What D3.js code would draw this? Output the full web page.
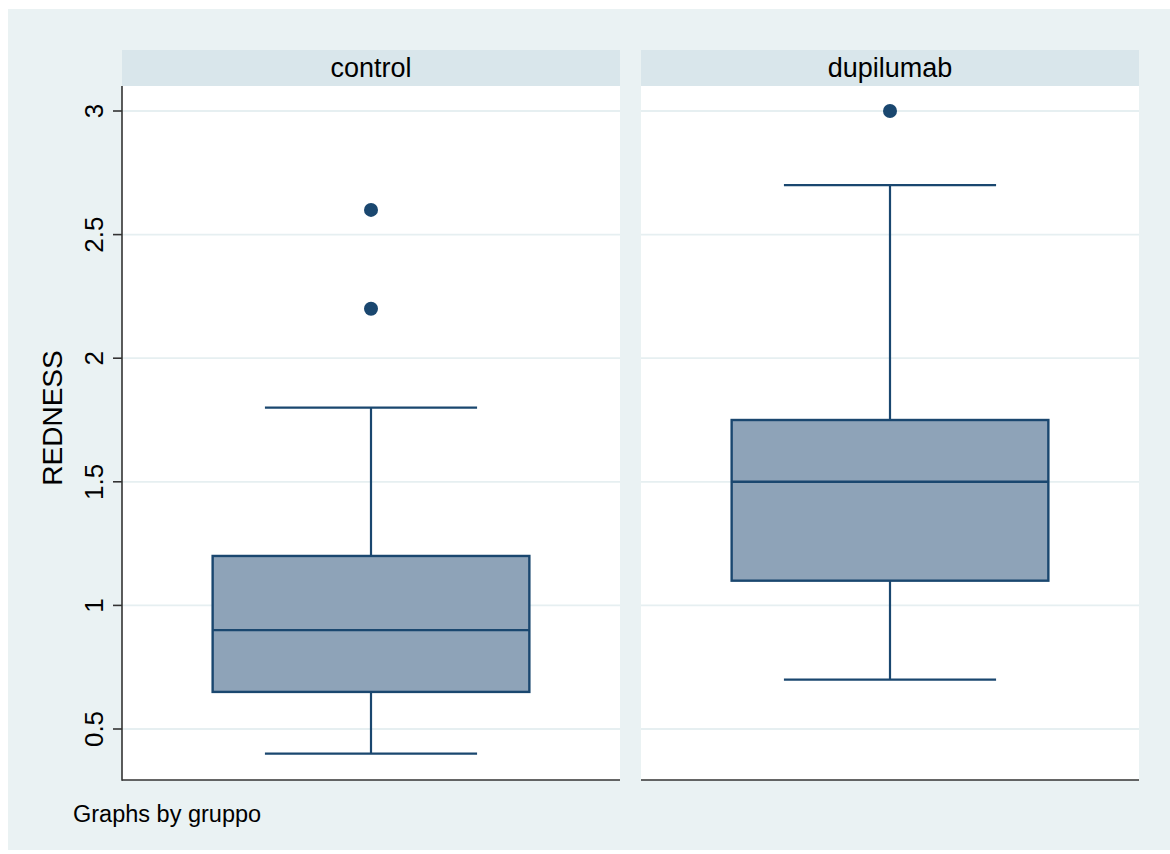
<!DOCTYPE html>
<html>
<head>
<meta charset="utf-8">
<script src="https://cdn.jsdelivr.net/npm/d3@7"></script>
<style>
html,body{margin:0;padding:0;background:#ffffff;}
svg{display:block;}
text{font-family:"Liberation Sans",Arial,Helvetica,sans-serif;fill:#000;}
</style>
</head>
<body>
<script>
// ---- data ----
const groups = ["control", "dupilumab"];
const lowerWhisker = [0.4, 0.7];
const q1 = [0.65, 1.1];
const median = [0.9, 1.5];
const q3 = [1.2, 1.75];
const upperWhisker = [1.8, 2.7];
const outliers = [[2.2, 2.6], [3.0]];
const yTicks = [0.5, 1, 1.5, 2, 2.5, 3];
const yTickLabels = ["0.5", "1", "1.5", "2", "2.5", "3"];
const yTitle = "REDNESS";
const note = "Graphs by gruppo";

// ---- layout ----
const W = 1170, H = 854;
const plotTop = 86, plotBottom = 780;
const stripTop = 50;
const navy = "#1a476f";

const svg = d3.select("body").append("svg").attr("width", W).attr("height", H);

svg.append("rect").attr("x", 8).attr("y", 9).attr("width", W - 8).attr("height", 841).attr("fill", "#eaf2f3");

const y = d3.scaleLinear().domain([0.5, 3]).range([729, 111]);

const panelX = d3.scaleBand().domain(groups).range([122, 1139]).paddingInner(21 / 519);

groups.forEach((g, i) => {
  const x0 = panelX(g), bw = panelX.bandwidth();
  const p = svg.append("g");
  // strip
  p.append("rect").attr("x", x0).attr("y", stripTop).attr("width", bw).attr("height", plotTop - stripTop).attr("fill", "#d9e6eb");
  p.append("text").attr("x", x0 + bw / 2).attr("y", 77).attr("text-anchor", "middle")
    .style("font-size", "27px").text(g);
  // plot area
  p.append("rect").attr("x", x0).attr("y", plotTop).attr("width", bw).attr("height", plotBottom - plotTop).attr("fill", "#ffffff");
  // grid
  p.selectAll("line.grid").data(yTicks).enter().append("line")
    .attr("x1", x0).attr("x2", x0 + bw).attr("y1", d => y(d)).attr("y2", d => y(d))
    .attr("stroke", "#e6eff1").attr("stroke-width", 1.8);

  const xs = d3.scaleLinear().domain([0, 1]).range([x0, x0 + bw]);
  const cx = xs(0.5);
  const boxL = xs(0.182), boxR = xs(0.818);
  const capL = xs(0.287), capR = xs(0.713);

  // whiskers
  p.append("line").attr("x1", cx).attr("x2", cx).attr("y1", y(upperWhisker[i])).attr("y2", y(q3[i]))
    .attr("stroke", navy).attr("stroke-width", 2.2);
  p.append("line").attr("x1", cx).attr("x2", cx).attr("y1", y(q1[i])).attr("y2", y(lowerWhisker[i]))
    .attr("stroke", navy).attr("stroke-width", 2.2);
  p.append("line").attr("x1", capL).attr("x2", capR).attr("y1", y(upperWhisker[i])).attr("y2", y(upperWhisker[i]))
    .attr("stroke", navy).attr("stroke-width", 2.2);
  p.append("line").attr("x1", capL).attr("x2", capR).attr("y1", y(lowerWhisker[i])).attr("y2", y(lowerWhisker[i]))
    .attr("stroke", navy).attr("stroke-width", 2.2);
  // box
  p.append("rect").attr("x", boxL).attr("y", y(q3[i])).attr("width", boxR - boxL).attr("height", y(q1[i]) - y(q3[i]))
    .attr("fill", "#8ea3b8").attr("stroke", navy).attr("stroke-width", 2.4);
  p.append("line").attr("x1", boxL).attr("x2", boxR).attr("y1", y(median[i])).attr("y2", y(median[i]))
    .attr("stroke", navy).attr("stroke-width", 2.4);
  // outliers
  p.selectAll("circle").data(outliers[i]).enter().append("circle")
    .attr("cx", cx).attr("cy", d => y(d)).attr("r", 7).attr("fill", navy);

  // bottom axis line
  p.append("line").attr("x1", x0).attr("x2", x0 + bw).attr("y1", plotBottom).attr("y2", plotBottom)
    .attr("stroke", "#333").attr("stroke-width", 1.6);
});

// y axis on left panel
const axisX = panelX(groups[0]);
const yAxis = svg.append("g");
yAxis.append("line").attr("x1", axisX).attr("x2", axisX).attr("y1", plotTop).attr("y2", plotBottom + 0.8)
  .attr("stroke", "#333").attr("stroke-width", 1.6);
yAxis.selectAll("line.tick").data(yTicks).enter().append("line")
  .attr("x1", axisX - 9).attr("x2", axisX).attr("y1", d => y(d)).attr("y2", d => y(d))
  .attr("stroke", "#333").attr("stroke-width", 1.6);
yAxis.selectAll("text").data(yTicks).enter().append("text")
  .attr("transform", d => `translate(103,${y(d)}) rotate(-90)`)
  .attr("text-anchor", "middle").style("font-size", "26px")
  .text((d, k) => yTickLabels[k]);

svg.append("text").attr("transform", "translate(62,418) rotate(-90)")
  .attr("text-anchor", "middle").style("font-size", "28px").text(yTitle);

svg.append("text").attr("x", 73).attr("y", 822).style("font-size", "23.5px").text(note);
</script>
</body>
</html>
